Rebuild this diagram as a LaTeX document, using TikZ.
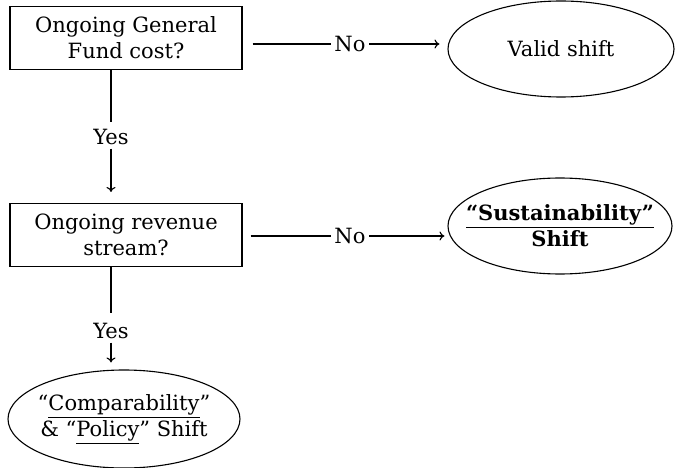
\documentclass[tikz,border=0pt]{standalone}
\usepackage{fontspec}
\setmainfont{DejaVu Serif}
\usetikzlibrary{shapes.geometric, arrows.meta}

\begin{document}
\begin{tikzpicture}[x=1pt, y=-1pt, line width=1.1pt,
  font=\fontsize{21}{26}\selectfont,
  >={To[length=5pt, width=9pt]},
  qbox/.style={draw, rectangle, minimum width=232pt, minimum height=63pt,
    inner sep=0pt, align=center},
  shiftoval/.style={draw, ellipse, inner sep=0pt},
  ovaltext/.style={align=center, inner sep=0pt}]
\useasboundingbox (0,0) rectangle (675,468);
% questions
\node[qbox] (fund) at (126,38) {Ongoing General\\Fund cost?};
\node[qbox] (revenue) at (126,235) {Ongoing revenue\\stream?};
% outcomes
\node[shiftoval, minimum width=226pt, minimum height=96pt,
  label={[ovaltext]center:Valid shift}] (valid) at (561,49) {};
\node[shiftoval, minimum width=224pt, minimum height=96pt,
  label={[ovaltext]center:\textbf{\underline{``Sustainability''}}\\\textbf{Shift}}]
  (sustain) at (560,226) {};
\node[shiftoval, minimum width=232pt, minimum height=98pt,
  label={[ovaltext]center:``\underline{Comparability}''\\\& ``\underline{Policy}'' Shift}]
  (compar) at (124,419) {};
% answers
\node (no1) at (350,44) {No};
\node (no2) at (350,236) {No};
\node (yes1) at (111,137) {Yes};
\node (yes2) at (111,331) {Yes};
% connectors
\draw[shorten <=10pt] (fund.east |- no1) -- (no1.west);
\draw[->, shorten >=8pt] (no1.east) -- (no1.east -| valid.west);
\draw[shorten <=8pt] (revenue.east |- no2) -- (no2.west);
\draw[->, shorten >=3pt] (no2.east) -- (no2.east -| sustain.west);
\draw[shorten >=3pt] (fund.south -| yes1) -- (yes1.north);
\draw[->, shorten >=11pt] (yes1.south) -- (revenue.north -| yes1);
\draw[shorten >=6pt] (revenue.south -| yes2) -- (yes2.north);
\draw[->, shorten >=7pt] (yes2.south) -- (compar.north -| yes2);
\end{tikzpicture}
\end{document}
